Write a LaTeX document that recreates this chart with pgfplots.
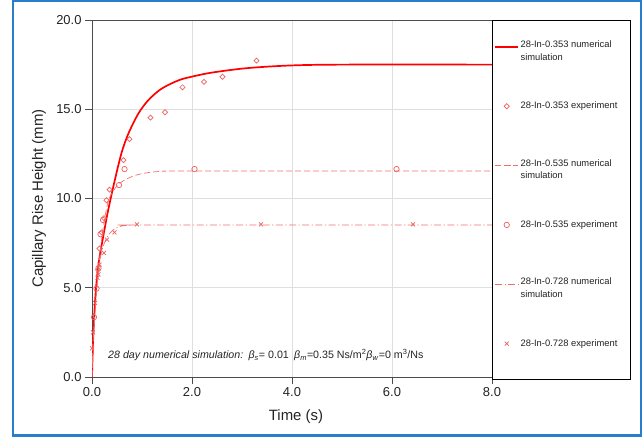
\documentclass[border=0pt]{standalone}
\usepackage{fontspec}
\setmainfont{Liberation Sans}
\usepackage{pgfplots}
\pgfplotsset{compat=1.18}
\definecolor{frameblue}{RGB}{40,125,205}
\definecolor{mred}{RGB}{238,95,95}
\definecolor{dred}{RGB}{242,110,110}
\definecolor{txt}{RGB}{35,35,35}
\newcommand{\lstrut}{\rule[-7.5bp]{0pt}{10bp}}
\newcommand{\twol}[1]{\makebox[106bp][l]{\lstrut\smash{\begin{tabular}[t]{@{}l@{}}#1 numerical\\simulation\end{tabular}}}}
\newcommand{\onel}[1]{\makebox[106bp][l]{\lstrut #1}}
\pgfplotsset{lastimg/.style={legend image code/.code={\draw[mark repeat=2,mark phase=2,##1] plot coordinates {(0bp,0bp) (11.5bp,0bp) (23bp,0bp)}; \path (0bp,-12.5bp);}}}
\begin{document}
\begin{tikzpicture}
\useasboundingbox (0,0) rectangle (643bp,437bp);
\begin{axis}[
  at={(92bp,60bp)}, anchor=south west,
  scale only axis, width=400bp, height=357bp,
  xmin=0, xmax=8, ymin=0, ymax=20,
  xtick={0,2,4,6,8}, ytick={0,5,10,15,20},
  grid=major, major grid style={gray!25, line width=0.8bp},
  axis line style={gray!60!black, line width=0.8bp},
  tick style={gray!60!black, line width=0.8bp},
  tick align=outside, tick pos=left, major tick length=7bp,
  /pgf/number format/assume math mode=true,
  /pgf/number format/.cd, fixed, fixed zerofill, precision=1, /pgfplots/.cd,
  tick label style={font=\fontsize{13}{15}\selectfont, text=txt},
  xlabel={Time (s)}, ylabel={Capillary Rise Height (mm)},
  label style={font=\fontsize{15}{18}\selectfont, text=txt},
  xlabel style={at={(axis description cs:0.51,-0.112)}, anchor=center},
  ylabel style={at={(axis description cs:-0.1325,0.5)}, anchor=center},
  legend image code/.code={\draw[mark repeat=2,mark phase=2,#1] plot coordinates {(0bp,0bp) (11.5bp,0bp) (23bp,0bp)};},
  legend style={at={(1,1)}, anchor=north west, draw=black, line width=0.8bp, fill=white,
    inner xsep=2bp, inner ysep=23bp, row sep=50.2bp, column sep=0pt,
    font=\fontsize{9.4}{12.7}\selectfont, nodes={inner sep=1.5bp, text=txt}},
  legend cell align=left,
]
% 28-In-0.353 numerical simulation
\addplot[red, line width=1.7bp, no marks, smooth] coordinates {
(0,0) (0.01,1.0) (0.03,2.6) (0.06,4.2) (0.1,5.6) (0.15,6.7) (0.22,7.8) (0.32,9.3)
(0.45,10.95) (0.59,12.55) (0.73,13.65) (0.93,14.77) (1.13,15.52) (1.39,16.15)
(1.73,16.62) (1.99,16.82) (2.39,17.05) (3.09,17.3) (3.95,17.45) (5,17.5) (8,17.5)};
\addlegendentry{\twol{28-In-0.353}}
% 28-In-0.353 experiment
\addplot[only marks, mark=square, mark size=1.8bp, mark options={mred, line width=0.7bp, rotate=45}] coordinates {
(0.12,6.0) (0.15,7.2) (0.19,8.1) (0.24,8.9) (0.29,9.9) (0.35,10.5) (0.63,12.15)
(0.75,13.33) (1.17,14.53) (1.46,14.83) (1.81,16.23) (2.24,16.53) (2.61,16.82) (3.29,17.72)};
\addlegendentry{\onel{28-In-0.353 experiment}}
% 28-In-0.535 numerical simulation
\addplot[dred, line width=0.7bp, dash pattern=on 6bp off 3bp, no marks, smooth] coordinates {
(0,0) (0.02,1.8) (0.05,3.2) (0.1,5.0) (0.15,6.6) (0.22,8.3) (0.32,9.8)
(0.42,10.4) (0.52,10.76) (0.63,11.0) (0.79,11.22) (0.95,11.36) (1.12,11.45)
(1.4,11.52) (2,11.54) (8,11.54)};
\addlegendentry{\twol{28-In-0.535}}
% 28-In-0.535 experiment
\addplot[only marks, mark=o, mark size=2.7bp, mark options={mred, line width=0.7bp}] coordinates {
(0.04,3.35) (0.09,4.95) (0.13,6.1) (0.17,8.0) (0.22,8.8) (0.54,10.75) (0.65,11.65)
(2.05,11.65) (6.09,11.65)};
\addlegendentry{\onel{28-In-0.535 experiment}}
% 28-In-0.728 numerical simulation
\addplot[dred, line width=0.7bp, dash pattern=on 7bp off 2.5bp on 1.2bp off 2.5bp, no marks, smooth] coordinates {
(0,0) (0.02,1.8) (0.05,3.2) (0.09,4.9) (0.13,5.9) (0.19,7.0) (0.29,7.77)
(0.42,8.23) (0.59,8.46) (0.8,8.51) (1,8.52) (8,8.52)};
\addlegendentry{\twol{28-In-0.728}}
% 28-In-0.728 experiment
\addplot[only marks, mark=x, mark size=2.8bp, mark options={mred, line width=0.7bp}, lastimg] coordinates {
(0.0,1.6) (0.02,2.5) (0.06,4.15) (0.11,5.55) (0.13,5.75) (0.15,6.3) (0.24,6.95)
(0.3,7.7) (0.45,8.1) (0.9,8.55) (3.38,8.55) (6.42,8.55)};
\addlegendentry{\onel{28-In-0.728 experiment}}
\node[anchor=west, font=\fontsize{10.7}{12}\selectfont, text=txt, inner sep=0pt] at (axis cs:0.32,1.23)
 {\textit{28 day numerical simulation:}\enspace\textit{β}\textsubscript{\textit{s}}= 0.01\enspace\textit{β}\textsubscript{\textit{m}}=0.35 Ns/m\textsuperscript{2}\textit{β}\textsubscript{\textit{w}}=0 m\textsuperscript{3}/Ns};
\end{axis}
\draw[frameblue, line width=2bp] (13bp,1.5bp) rectangle (640.5bp,435.5bp);
\end{tikzpicture}
\end{document}
